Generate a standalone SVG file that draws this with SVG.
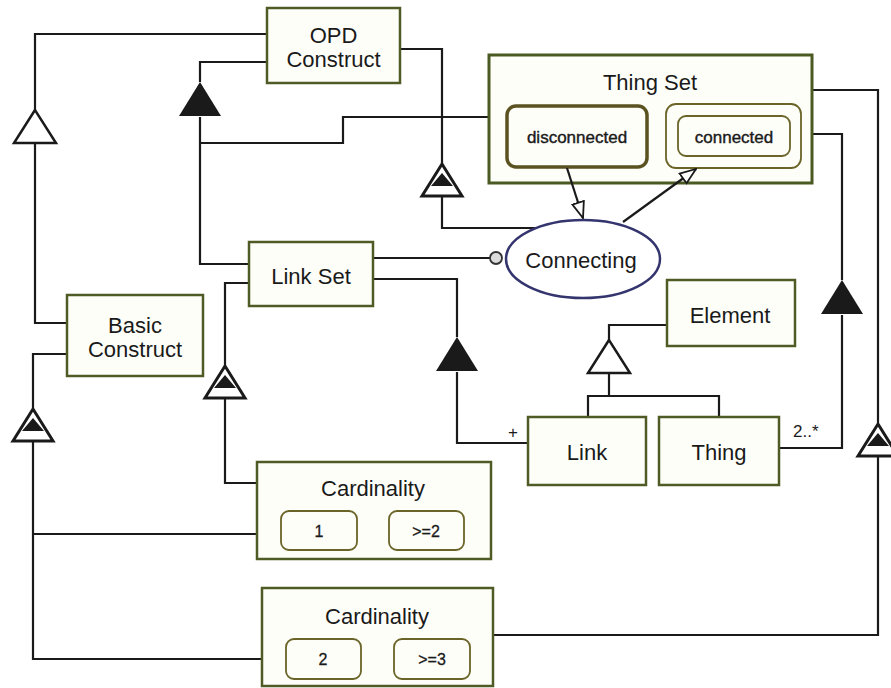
<svg xmlns="http://www.w3.org/2000/svg" width="891" height="688" viewBox="0 0 891 688">
  <style>
    .box { fill: #fefef9; stroke: #4f5b25; stroke-width: 2.5; }
    .set { fill: #fefef9; stroke: #4b5a22; stroke-width: 3; }
    .state { fill: #fefef9; stroke: #6a6428; stroke-width: 1.8; }
    .state-thick { fill: #fefef9; stroke: #5a5220; stroke-width: 3.5; }
    .wire { fill: none; stroke: #1a1a1a; stroke-width: 2.2; }
    .lbl { font-family: "Liberation Sans", Arial, sans-serif; font-size: 22px; fill: #1a1a1a; text-anchor: middle; }
    .small { font-family: "Liberation Sans", Arial, sans-serif; font-size: 17px; fill: #1a1a1a; stroke: #1a1a1a; stroke-width: 0.4; text-anchor: middle; }
    .val { font-family: "Liberation Sans", Arial, sans-serif; font-size: 16px; fill: #1a1a1a; stroke: #1a1a1a; stroke-width: 0.3; text-anchor: middle; }
    .tag { font-family: "Liberation Sans", Arial, sans-serif; font-size: 17px; fill: #1a1a1a; }
  </style>
  <defs>
    <!-- generalization: hollow triangle, apex at origin -->
    <polygon id="tri-open" points="0,0 -21,33 21,33" fill="#fff" stroke="#1a1a1a" stroke-width="2.5"/>
    <!-- aggregation: filled triangle -->
    <polygon id="tri-fill" points="0,0 -21,34 21,34" fill="#1a1a1a"/>
    <!-- characterization: hollow triangle with filled inner triangle -->
    <g id="tri-char">
      <polygon points="0,1 -20,33 20,33" fill="#fff" stroke="#1a1a1a" stroke-width="3"/>
      <polygon points="0,10 -11,23 11,23" fill="#1a1a1a"/>
    </g>
    <marker id="open-head" viewBox="0 0 18 14" refX="17" refY="7" markerWidth="18" markerHeight="14" markerUnits="userSpaceOnUse" orient="auto">
      <path d="M1,1 L17,7 L1,13 Z" fill="#fff" stroke="#1a1a1a" stroke-width="1.8"/>
    </marker>
  </defs>

  <rect width="891" height="688" fill="#fff"/>

  <!-- connectors -->
  <g id="connectors">
    <!-- OPD Construct <- Basic Construct (generalization) -->
    <path class="wire" d="M267,34 H35 V110 M35,143 V323 H67"/>
    <!-- OPD Construct aggregates Thing Set and Link Set -->
    <path class="wire" d="M267,62 H200 V82 M200,117 V264 H249"/>
    <path class="wire" d="M200,143 H343 V117 H489"/>
    <!-- OPD Construct characterizes Connecting -->
    <path class="wire" d="M400,49 H442 V163 M442,197 V228 H536"/>
    <!-- Link Set to Connecting (instrument) -->
    <path class="wire" d="M373,258 H490"/>
    <circle cx="496" cy="258" r="6" fill="#dcdcdc" stroke="#333" stroke-width="1.8"/>
    <!-- Link Set aggregates Link -->
    <path class="wire" d="M373,279 H457 V337 M457,372 V443 H528"/>
    <!-- Link Set characterized by Cardinality -->
    <path class="wire" d="M249,283 H225 V365 M225,399 V483 H257"/>
    <!-- Basic Construct characterized by cardinality values -->
    <path class="wire" d="M67,354 H33 V408 M33,442 V659 H286 M33,534 H281"/>
    <!-- Element generalizes Link and Thing -->
    <path class="wire" d="M667,325 H609 V340 M609,373 V396 M588,417 V396 H719 V417"/>
    <!-- Thing Set aggregates Thing -->
    <path class="wire" d="M812,134 H842 V280 M842,315 V448 H779"/>
    <!-- Thing Set characterized by Cardinality -->
    <path class="wire" d="M812,90 H878 V423 M878,456 V635 H493"/>

    <use href="#tri-open" x="35" y="110"/>
    <use href="#tri-open" x="609" y="340"/>
    <use href="#tri-fill" x="200" y="82"/>
    <use href="#tri-fill" x="457" y="337"/>
    <use href="#tri-fill" x="842" y="280"/>
    <use href="#tri-char" x="442" y="163"/>
    <use href="#tri-char" x="225" y="365"/>
    <use href="#tri-char" x="33" y="408"/>
    <use href="#tri-char" x="878" y="423"/>

    <text class="tag" x="508" y="438" font-size="14">+</text>
    <text class="tag" x="793" y="437">2..*</text>
  </g>

  <g id="opd-construct">
    <rect class="box" x="267" y="8" width="133" height="75"/>
    <text class="lbl" x="333.5" y="43">OPD</text>
    <text class="lbl" x="333.5" y="67">Construct</text>
  </g>

  <g id="thing-set">
    <rect class="set" x="489" y="55" width="323" height="128"/>
    <text class="lbl" x="650" y="90">Thing Set</text>
    <g id="state-disconnected">
      <rect class="state-thick" x="507" y="106" width="140" height="61" rx="9"/>
      <text class="small" x="577" y="143">disconnected</text>
    </g>
    <g id="state-connected">
      <rect class="state" x="666" y="104" width="135" height="64" rx="10"/>
      <rect class="state" x="678" y="116" width="112" height="40" rx="8"/>
      <text class="small" x="734" y="143">connected</text>
    </g>
  </g>

  <g id="basic-construct">
    <rect class="box" x="67" y="295" width="136" height="81"/>
    <text class="lbl" x="135" y="333">Basic</text>
    <text class="lbl" x="135" y="357">Construct</text>
  </g>

  <g id="link-set">
    <rect class="box" x="249" y="242" width="124" height="64"/>
    <text class="lbl" x="311" y="284">Link Set</text>
  </g>

  <g id="connecting">
    <ellipse cx="583" cy="259" rx="77" ry="39" fill="#fff" stroke="#34346e" stroke-width="2.5"/>
    <text class="lbl" x="581" y="268">Connecting</text>
  </g>

  <g id="element">
    <rect class="box" x="667" y="280" width="128" height="66"/>
    <text class="lbl" x="730" y="323">Element</text>
  </g>

  <g id="link">
    <rect class="box" x="528" y="417" width="118" height="68"/>
    <text class="lbl" x="587" y="460">Link</text>
  </g>

  <g id="thing">
    <rect class="box" x="659" y="417" width="120" height="68"/>
    <text class="lbl" x="719" y="460">Thing</text>
  </g>

  <g id="cardinality-link">
    <rect class="box" x="257" y="462" width="234" height="97"/>
    <text class="lbl" x="373" y="496">Cardinality</text>
    <rect class="state" x="281" y="511" width="76" height="39" rx="8"/>
    <text class="val" x="319" y="537">1</text>
    <rect class="state" x="389" y="511" width="75" height="39" rx="8"/>
    <text class="val" x="426" y="537">&gt;=2</text>
  </g>

  <g id="cardinality-thing">
    <rect class="box" x="262" y="588" width="231" height="98"/>
    <text class="lbl" x="377" y="624">Cardinality</text>
    <rect class="state" x="286" y="639" width="75" height="40" rx="8"/>
    <text class="val" x="323" y="665">2</text>
    <rect class="state" x="394" y="639" width="76" height="40" rx="8"/>
    <text class="val" x="432" y="665">&gt;=3</text>
  </g>

  <!-- state transitions through Connecting, drawn above the Thing Set box -->
  <g id="transitions">
    <path class="wire" d="M567,168 L583,218" marker-end="url(#open-head)"/>
    <path class="wire" d="M623,222 L696,169" marker-end="url(#open-head)"/>
  </g>
</svg>
